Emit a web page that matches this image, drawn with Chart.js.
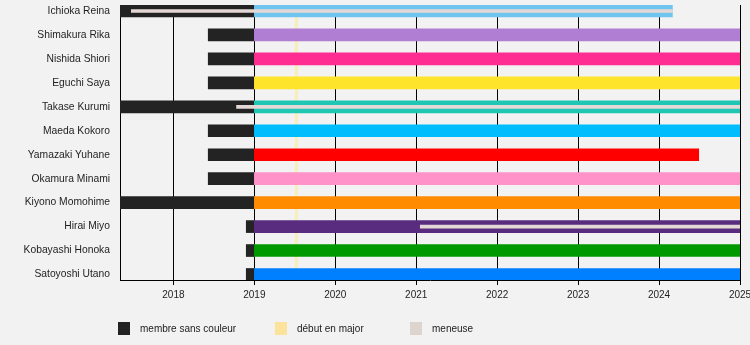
<!DOCTYPE html>
<html>
<head>
<meta charset="utf-8">
<script src="https://cdn.jsdelivr.net/npm/chart.js@4"></script>
<style>
  html, body { margin: 0; padding: 0; background: #f2f2f2; }
  .wrap { position: relative; width: 750px; height: 345px; }
  .legend-box { position: absolute; top: 322px; width: 12px; height: 13px; }
  .legend-text { position: absolute; top: 323px; font: 10px "Liberation Sans", Arial, sans-serif; color: #222; line-height: 12px; }
</style>
</head>
<body>
<div class="wrap">
  <canvas id="chart" width="750" height="345"></canvas>
  <div class="legend-box" style="left:118px;background:#232323"></div>
  <div class="legend-text" style="left:140px">membre sans couleur</div>
  <div class="legend-box" style="left:275px;background:#fce39c"></div>
  <div class="legend-text" style="left:297px">début en major</div>
  <div class="legend-box" style="left:410px;background:#ddd5cd"></div>
  <div class="legend-text" style="left:432px">meneuse</div>
</div>
<script>
// members, top to bottom
const members = ['Ichioka Reina', 'Shimakura Rika', 'Nishida Shiori', 'Eguchi Saya', 'Takase Kurumi',
  'Maeda Kokoro', 'Yamazaki Yuhane', 'Okamura Minami', 'Kiyono Momohime', 'Hirai Miyo',
  'Kobayashi Honoka', 'Satoyoshi Utano']
// dates as decimal years
const blackStart = [2017.34, 2018.43, 2018.43, 2018.43, 2017.34, 2018.43, 2018.43, 2018.43, 2017.34, 2018.9, 2018.9, 2018.9]
const colourStart = [2019, 2019, 2019, 2019, 2019, 2019, 2019, 2019, 2019, 2019, 2019, 2019]
const colourEnd = [2024.165, 2025, 2025, 2025, 2025, 2025, 2024.49, 2025, 2025, 2025, 2025, 2025]
const memberColours = ['#6fc5f0', '#b07fd3', '#ff2d92', '#ffe42c', '#1fc6b4', '#00bdfd',
  '#ff0000', '#ff93c9', '#ff8c00', '#5a2c80', '#009a00', '#0080ff']
const leaderRows = [0, 4, 9]
const leaderStart = [2017.48, 2018.78, 2021.05]
const leaderEnd = [2024.165, 2025, 2025]
const debutMajor = 2019.52
const years = [2018, 2019, 2020, 2021, 2022, 2023, 2024, 2025]
const axisMin = 2017.34
const axisMax = 2025

const debutLine = {
  id: 'debutLine',
  beforeDatasetsDraw(chart){
    const {ctx, chartArea, scales} = chart
    const x = scales.x.getPixelForValue(debutMajor)
    ctx.save()
    ctx.fillStyle = 'rgba(255, 232, 120, 0.45)'
    ctx.fillRect(x - 1.5, chartArea.top, 3, chartArea.bottom - chartArea.top)
    ctx.restore()
  }
}

Chart.defaults.font.family = '"Liberation Sans", Arial, sans-serif'
Chart.defaults.font.size = 10
Chart.defaults.color = '#1e1e1e'

new Chart(document.getElementById('chart'), {
  type: 'bar',
  data: {
    datasets: [
      {
        label: 'meneuse',
        order: 0,
        data: leaderRows.map((row, i) => ({y: row, x: [leaderStart[i], leaderEnd[i]]})),
        backgroundColor: '#e4d8d6',
        barThickness: 3
      },
      {
        label: 'couleur',
        order: 1,
        data: members.map((m, i) => ({y: i, x: [colourStart[i], colourEnd[i]]})),
        backgroundColor: memberColours,
        barThickness: 12
      },
      {
        label: 'membre sans couleur',
        order: 2,
        data: members.map((m, i) => ({y: i, x: [blackStart[i], colourStart[i]]})),
        backgroundColor: '#232323',
        barThickness: 12
      }
    ]
  },
  options: {
    indexAxis: 'y',
    animation: false,
    responsive: false,
    datasets: { bar: { grouped: false, borderWidth: 0 } },
    layout: { padding: { top: 5, right: 10, left: 0, bottom: 0 } },
    plugins: { legend: { display: false }, tooltip: { enabled: false } },
    scales: {
      x: {
        type: 'linear',
        min: axisMin,
        max: axisMax,
        afterBuildTicks: scale => { scale.ticks = years.map(v => ({value: v})) },
        afterFit: scale => { scale.height = 65; scale.paddingLeft = 0; scale.paddingRight = 0 },
        ticks: { callback: v => String(v), padding: 4, maxRotation: 0, autoSkip: false },
        grid: { color: '#000', lineWidth: 1, tickLength: 5 },
        border: { color: '#000', width: 1 }
      },
      y: {
        type: 'linear',
        reverse: true,
        offset: false,
        min: -0.25,
        max: 11.23,
        afterBuildTicks: scale => { scale.ticks = members.map((m, i) => ({value: i})) },
        afterFit: scale => { scale.width = 120; scale.paddingTop = 0; scale.paddingBottom = 0 },
        ticks: { callback: v => members[v] ?? '', padding: 10, autoSkip: false, font: { size: 10.3 } },
        grid: { display: false, drawTicks: false, offset: false },
        border: { display: true, color: '#000', width: 1 }
      }
    }
  },
  plugins: [debutLine]
})
</script>
</body>
</html>
